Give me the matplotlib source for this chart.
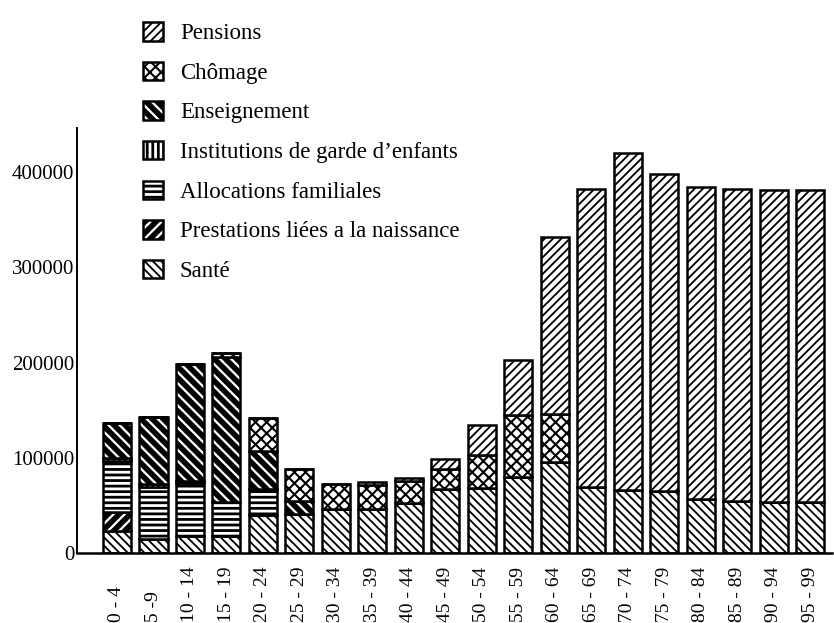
import matplotlib
matplotlib.use("Agg")
import matplotlib.pyplot as plt
import numpy as np

age_groups = ["0 - 4", "5 -9", "10 - 14", "15 - 19", "20 - 24", "25 - 29", "30 - 34",
              "35 - 39", "40 - 44", "45 - 49", "50 - 54", "55 - 59", "60 - 64", "65 - 69",
              "70 - 74", "75 - 79", "80 - 84", "85 - 89", "90 - 94", "95 - 99"]

sante = [23000, 15000, 18000, 18000, 40000, 41000, 46700, 46700, 53000, 67700,
         68500, 80000, 95500, 69000, 66500, 65000, 57000, 55000, 53500, 53500]
prestations = [20000, 0, 0, 0, 0, 0, 0, 0, 0, 0, 0, 0, 0, 0, 0, 0, 0, 0, 0, 0]
allocations = [54000, 54000, 56000, 36000, 27000, 0, 0, 0, 0, 0,
               0, 0, 0, 0, 0, 0, 0, 0, 0, 0]
institutions = [3000, 3000, 2000, 0, 0, 0, 0, 0, 0, 0,
                0, 0, 0, 0, 0, 0, 0, 0, 0, 0]
enseignement = [36000, 71000, 122000, 152000, 40000, 13600, 0, 0, 0, 0,
                0, 0, 0, 0, 0, 0, 0, 0, 0, 0]
chomage = [0, 0, 0, 4000, 35000, 33600, 26000, 24700, 22600, 21000,
           34200, 64400, 50400, 0, 0, 0, 0, 0, 0, 0]
pensions = [0, 0, 0, 0, 0, 0, 0, 3000, 3200, 10500,
            32200, 58300, 186000, 313000, 353500, 333000, 327000, 327000, 327500, 327500]

y_ticks = [0, 100000, 200000, 300000, 400000]

series = [
    ("Santé", sante, "\\" * 4, 1.3),
    ("Prestations liées a la naissance", prestations, "///", 4.0),
    ("Allocations familiales", allocations, "---", 2.0),
    ("Institutions de garde d\u2019enfants", institutions, "|||", 2.0),
    ("Enseignement", enseignement, "\\" * 3, 4.0),
    ("Chômage", chomage, "xxx", 1.5),
    ("Pensions", pensions, "////", 1.3),
]

plt.rcParams['font.family'] = ['Liberation Serif', 'DejaVu Serif']
plt.rcParams['hatch.linewidth'] = 1.0

fig = plt.figure(figsize=(8.34, 6.23), dpi=100)
W, H = 834, 623
ax_left, ax_right, ax_bottom, ax_top = 77, 832, 553, 128
ax = fig.add_axes([ax_left / W, 1 - ax_bottom / H, (ax_right - ax_left) / W, (ax_bottom - ax_top) / H])

x = np.arange(len(age_groups))
bottom = np.zeros(len(age_groups))
handles = {}
hlws = {}
for name, vals, hatch, hlw in series:
    vals = np.array(vals, dtype=float)
    bars = ax.bar(x, vals, width=0.77, bottom=bottom, facecolor='white',
                  edgecolor='black', linewidth=1.8, hatch=hatch, label=name, zorder=2)
    for b in bars:
        try:
            b.set_hatch_linewidth(hlw)
        except Exception:
            pass
    handles[name] = bars
    hlws[name] = hlw
    bottom += vals

ax.set_xlim(-1.096, 19.6)
ax.set_ylim(0, 446200)

for s in ['top', 'right']:
    ax.spines[s].set_visible(False)
ax.spines['left'].set_linewidth(1.4)
ax.spines['bottom'].set_linewidth(1.8)

ax.set_yticks(y_ticks)
ax.set_yticklabels([str(v) for v in y_ticks], fontsize=15)
ax.tick_params(axis='y', length=0, pad=2)

ax.set_xticks(x)
ax.set_xticklabels(age_groups, rotation=90, fontsize=14, va='bottom')
ax.tick_params(axis='x', length=0, pad=50)

order = ["Pensions", "Chômage", "Enseignement", "Institutions de garde d\u2019enfants",
         "Allocations familiales", "Prestations liées a la naissance", "Santé"]
leg = fig.legend([handles[n] for n in order], order, loc='upper left',
                 bbox_to_anchor=(143 / W, 1 - 22 / H), frameon=False, fontsize=16.5,
                 handlelength=0.87, handleheight=0.87, handletextpad=0.74,
                 labelspacing=0.76, borderpad=0, borderaxespad=0)
for p, n in zip(leg.get_patches(), order):
    p.set_linewidth(1.8)
    try:
        p.set_hatch_linewidth(hlws[n])
    except Exception:
        pass

fig.savefig("out.png", dpi=100)
